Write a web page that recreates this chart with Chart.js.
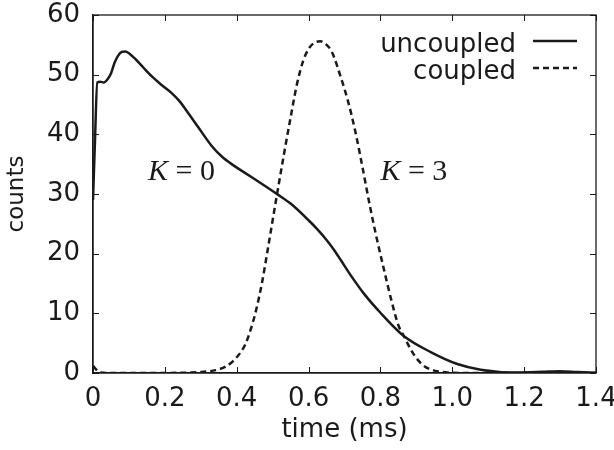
<!DOCTYPE html>
<html lang="en">
<head>
  <meta charset="UTF-8">
  <title>counts vs time</title>
  <script src="https://cdn.jsdelivr.net/npm/chart.js@4.4.1/dist/chart.umd.min.js"></script>
  <style>
    body { margin: 0; background: #fff; }
  </style>
</head>
<body>
<div style="width: 614px; height: 450px;">
  <canvas id="cChart" width="614" height="450"></canvas>
</div>
<script>
// values
const timeUncoupled = [0, 0.005, 0.012, 0.02, 0.03, 0.04, 0.05, 0.06, 0.07, 0.08, 0.09, 0.10, 0.12, 0.14, 0.164, 0.19, 0.219, 0.24, 0.26, 0.294, 0.331, 0.36, 0.391, 0.424, 0.48, 0.512, 0.55, 0.60, 0.624, 0.65, 0.67, 0.69, 0.717, 0.754, 0.80, 0.865, 0.94, 1.014, 1.079, 1.172, 1.25, 1.30, 1.35, 1.40];
const countsUncoupled = [29, 38, 48.7, 48.8, 48.7, 49.2, 50.2, 52.0, 53.2, 53.8, 53.9, 53.6, 52.5, 51.2, 49.7, 48.3, 46.9, 45.6, 44.0, 41.1, 38.0, 36.2, 34.8, 33.5, 31.3, 30.0, 28.4, 25.6, 24.1, 22.3, 20.7, 18.9, 16.4, 13.3, 10.1, 6.2, 3.5, 1.5, 0.55, 0.1, 0.2, 0.3, 0.15, 0.05];

const timeCoupled = [0, 0.01, 0.02, 0.05, 0.1, 0.2, 0.25, 0.30, 0.33, 0.35, 0.37, 0.39, 0.41, 0.424, 0.44, 0.455, 0.47, 0.49, 0.512, 0.531, 0.549, 0.568, 0.585, 0.60, 0.615, 0.633, 0.65, 0.665, 0.689, 0.71, 0.73, 0.75, 0.772, 0.79, 0.81, 0.83, 0.85, 0.865, 0.884, 0.90, 0.921, 0.95, 0.986, 1.05, 1.2, 1.4];
const countsCoupled = [1.2, 0.5, 0.1, 0, 0, 0, 0.05, 0.15, 0.35, 0.6, 1.1, 2.0, 3.4, 4.8, 7.5, 10.8, 15.0, 22.0, 29.9, 36.5, 42.5, 48.5, 52.3, 54.3, 55.3, 55.6, 55.0, 53.8, 49.7, 45.5, 40.5, 34.5, 27.6, 22.5, 17.3, 12.3, 8.0, 6.2, 4.0, 2.5, 1.2, 0.4, 0.1, 0, 0, 0];

const seriesNames = ['uncoupled', 'coupled'];
const xTickValues = [0, 0.2, 0.4, 0.6, 0.8, 1.0, 1.2, 1.4];
const xTickLabels = ['0', '0.2', '0.4', '0.6', '0.8', '1.0', '1.2', '1.4'];
const yTickValues = [0, 10, 20, 30, 40, 50, 60];
const notes = [
  { x: 0.153, y: 33.7, value: '0' },
  { x: 0.80, y: 33.7, value: '3' }
];

const ink = '#1a1a1a';
Chart.defaults.font.family = '"DejaVu Sans", sans-serif';
Chart.defaults.font.size = 26;
Chart.defaults.color = ink;

const toPoints = (xs, ys) => xs.map((x, i) => ({ x: x, y: ys[i] }));

// keep the plot box where the reference has it: drop the label overhang padding
const noOverhang = s => { s.paddingTop = 0; s.paddingBottom = 0; s.paddingLeft = 0; s.paddingRight = 0; };

// frame, inward ticks, legend and K labels
const decorations = {
  id: 'decorations',
  afterDatasetsDraw(chart) {
    const { ctx, chartArea: a, scales: { x, y } } = chart;
    ctx.save();
    ctx.strokeStyle = ink;
    ctx.lineWidth = 1;
    ctx.beginPath();
    xTickValues.forEach(v => {
      const px = Math.round(x.getPixelForValue(v)) + 0.5;
      ctx.moveTo(px, a.bottom); ctx.lineTo(px, a.bottom - 6);
      ctx.moveTo(px, a.top); ctx.lineTo(px, a.top + 6);
    });
    yTickValues.forEach(v => {
      const py = Math.round(y.getPixelForValue(v)) + 0.5;
      ctx.moveTo(a.left, py); ctx.lineTo(a.left + 6, py);
      ctx.moveTo(a.right, py); ctx.lineTo(a.right - 6, py);
    });
    ctx.stroke();
    ctx.lineWidth = 1.3;
    ctx.strokeRect(a.left, a.top, a.right - a.left, a.bottom - a.top);

    // legend, top right inside the frame
    ctx.font = '26px "DejaVu Sans"';
    ctx.fillStyle = ink;
    ctx.textAlign = 'right';
    ctx.textBaseline = 'middle';
    chart.data.datasets.forEach((ds, i) => {
      const ty = a.top + 30 + i * 27;
      ctx.fillText(ds.label, a.right - 80, ty);
      ctx.save();
      ctx.strokeStyle = ds.borderColor;
      ctx.lineWidth = ds.borderWidth;
      ctx.setLineDash(ds.borderDash || []);
      ctx.beginPath();
      ctx.moveTo(a.right - 63, ty - 4);
      ctx.lineTo(a.right - 19, ty - 4);
      ctx.stroke();
      ctx.restore();
    });

    // K = 0 / K = 3
    ctx.textAlign = 'left';
    ctx.textBaseline = 'middle';
    notes.forEach(n => {
      const px = x.getPixelForValue(n.x);
      const py = y.getPixelForValue(n.y);
      ctx.font = 'italic 30px "Liberation Serif"';
      ctx.fillText('K', px, py);
      const w = ctx.measureText('K').width;
      ctx.font = '30px "Liberation Serif"';
      ctx.fillText(' = ' + n.value, px + w, py);
    });
    ctx.restore();
  }
};

const config = {
  type: 'line',
  data: {
    datasets: [{
      label: seriesNames[0],
      data: toPoints(timeUncoupled, countsUncoupled),
      borderColor: ink,
      borderWidth: 2.5,
      pointRadius: 0,
      cubicInterpolationMode: 'monotone'
    }, {
      label: seriesNames[1],
      data: toPoints(timeCoupled, countsCoupled),
      borderColor: ink,
      borderWidth: 2.5,
      borderDash: [6, 4],
      pointRadius: 0,
      cubicInterpolationMode: 'monotone'
    }]
  },
  options: {
    responsive: false,
    animation: false,
    events: [],
    layout: { autoPadding: false, padding: { top: 15, right: 18, left: 0, bottom: 0 } },
    plugins: {
      legend: { display: false },
      tooltip: { enabled: false }
    },
    scales: {
      x: {
        type: 'linear',
        min: 0,
        max: 1.4,
        grid: { display: false, drawTicks: false },
        border: { display: true, color: ink, width: 1.3 },
        ticks: {
          stepSize: 0.2,
          padding: 11,
          maxRotation: 0,
          callback: (v, i) => xTickLabels[i]
        },
        title: { display: true, text: 'time (ms)', padding: { top: 0, bottom: 4 } },
        afterFit: s => { s.height = 77; noOverhang(s); }
      },
      y: {
        min: 0,
        max: 60,
        grid: { display: false, drawTicks: false },
        border: { display: true, color: ink, width: 1.3 },
        ticks: { stepSize: 10, padding: 13 },
        title: { display: true, text: 'counts', font: { size: 23 }, padding: { top: 3, bottom: 0 } },
        afterFit: s => { s.width = 93; noOverhang(s); }
      }
    }
  },
  plugins: [decorations]
};

const cChart = new Chart(document.getElementById('cChart'), config);
</script>
</body>
</html>
